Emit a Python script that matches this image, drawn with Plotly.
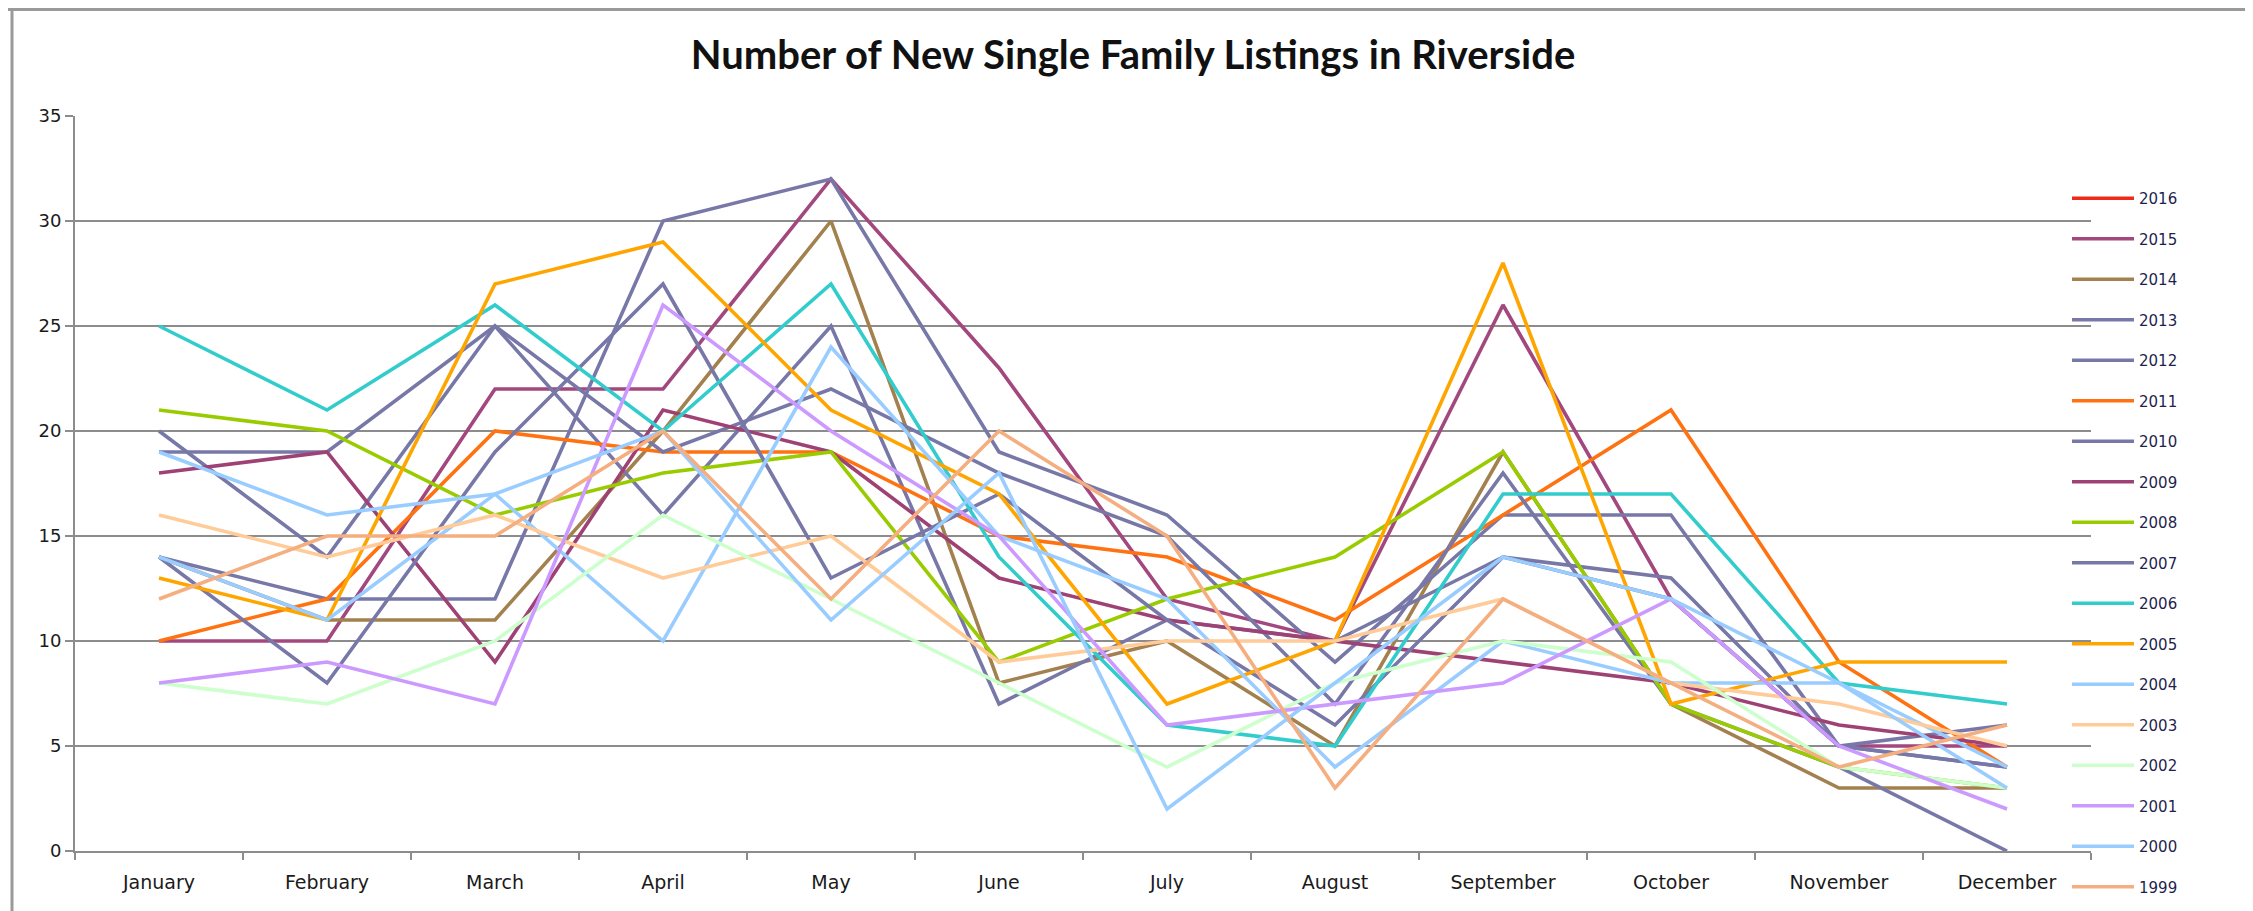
import plotly.graph_objects as go

months = ["January", "February", "March", "April", "May", "June", "July",
          "August", "September", "October", "November", "December"]

y2016 = [None] * 12
y2015 = [10, 10, 22, 22, 32, 23, 12, 10, 26, 12, 5, 5]
y2014 = [14, 11, 11, 20, 30, 8, 10, 5, 19, 7, 3, 3]
y2013 = [14, 12, 12, 30, 32, 19, 16, 9, 16, 16, 5, 6]
y2012 = [19, 19, 25, 16, 25, 7, 11, 10, 14, 13, 5, 4]
y2011 = [10, 12, 20, 19, 19, 15, 14, 11, 16, 21, 9, 4]
y2010 = [20, 14, 25, 19, 22, 18, 15, 7, 18, 7, 4, 0]
y2009 = [18, 19, 9, 21, 19, 13, 11, 10, 9, 8, 6, 5]
y2008 = [21, 20, 16, 18, 19, 9, 12, 14, 19, 7, 4, 3]
y2007 = [14, 8, 19, 27, 13, 17, 11, 6, 14, 12, 5, 4]
y2006 = [25, 21, 26, 20, 27, 14, 6, 5, 17, 17, 8, 7]
y2005 = [13, 11, 27, 29, 21, 17, 7, 10, 28, 7, 9, 9]
y2004 = [14, 11, 17, 10, 24, 15, 12, 4, 10, 8, 8, 4]
y2003 = [16, 14, 16, 13, 15, 9, 10, 10, 12, 8, 7, 5]
y2002 = [8, 7, 10, 16, 12, 8, 4, 8, 10, 9, 4, 3]
y2001 = [8, 9, 7, 26, 20, 15, 6, 7, 8, 12, 5, 2]
y2000 = [19, 16, 17, 20, 11, 18, 2, 8, 14, 12, 8, 3]
y1999 = [12, 15, 15, 20, 12, 20, 15, 3, 12, 8, 4, 6]

years = ["2016", "2015", "2014", "2013", "2012", "2011", "2010", "2009", "2008",
         "2007", "2006", "2005", "2004", "2003", "2002", "2001", "2000", "1999"]
series = [y2016, y2015, y2014, y2013, y2012, y2011, y2010, y2009, y2008,
          y2007, y2006, y2005, y2004, y2003, y2002, y2001, y2000, y1999]
colors = ["#EE2A1B", "#A2487E", "#A3814F", "#7878A8", "#7878A8", "#FF7212",
          "#7878A8", "#9E4174", "#99CC00", "#7878A8", "#33CCCC", "#FFA500",
          "#99CCFF", "#FFCC99", "#CCFFCC", "#CC99FF", "#99CCFF", "#F5AE80"]

fig = go.Figure()
for name, vals, col in zip(years, series, colors):
    fig.add_trace(go.Scatter(
        x=months, y=vals, name=name, mode="lines",
        line=dict(color=col, width=3.6),
        legendgroup=name, showlegend=True,
    ))

# page has an 8px body margin: figure is drawn 8px in from the top-left
W, H = 2245, 903
L, R, T, B = 67, 162, 108, 60
pw, ph = W - L - R, H - T - B

def px_x(p):
    return (p - L) / pw

def px_y(p):
    return (H - B - p) / ph

fig.update_layout(
    width=W, height=H,
    margin=dict(l=L, r=R, t=T, b=B, autoexpand=False),
    paper_bgcolor="white", plot_bgcolor="white",
    title=dict(text="<b>Number of New Single Family Listings in Riverside</b>",
               x=(1133 - 8) / W, xanchor="center", y=1 - 47 / H, yanchor="middle",
               font=dict(family="Lato", size=40, color="#111111")),
    showlegend=True,
    legend=dict(x=px_x(2059), xanchor="left",
                y=px_y(174), yanchor="top",
                bgcolor="rgba(0,0,0,0)", tracegroupgap=18,
                font=dict(family="DejaVu Sans", size=15, color="#1F1F4F"),
                itemwidth=62),
    xaxis=dict(type="category", showgrid=False, showline=True,
               linecolor="#8C8C8C", linewidth=2, ticks="outside",
               tickson="boundaries", ticklen=7, tickcolor="#8C8C8C",
               tickwidth=2, ticklabelstandoff=13,
               tickfont=dict(family="DejaVu Sans", size=19, color="#1A1A1A"),
               range=[-0.5, 11.5]),
    yaxis=dict(range=[0, 35], dtick=5, showgrid=True, gridcolor="#8C8C8C",
               gridwidth=2, showline=True, linecolor="#8C8C8C", linewidth=2,
               ticks="outside", ticklen=8, tickcolor="#8C8C8C", tickwidth=2,
               zeroline=False,
               tickfont=dict(family="DejaVu Sans", size=18, color="#1A1A1A")),
)

# chart-area frame (spreadsheet borders)
fig.add_shape(type="line", xref="paper", yref="paper",
              x0=px_x(0), x1=px_x(W), y0=px_y(1), y1=px_y(1),
              line=dict(color="#9A9A9A", width=4))
fig.add_shape(type="line", xref="paper", yref="paper",
              x0=px_x(4), x1=px_x(4), y0=px_y(1), y1=px_y(H),
              line=dict(color="#9A9A9A", width=3))
fig.add_shape(type="line", xref="paper", yref="paper",
              x0=px_x(2242), x1=px_x(2242), y0=px_y(1), y1=px_y(H),
              line=dict(color="#8A8A8A", width=3))

fig.write_html("out.html")
